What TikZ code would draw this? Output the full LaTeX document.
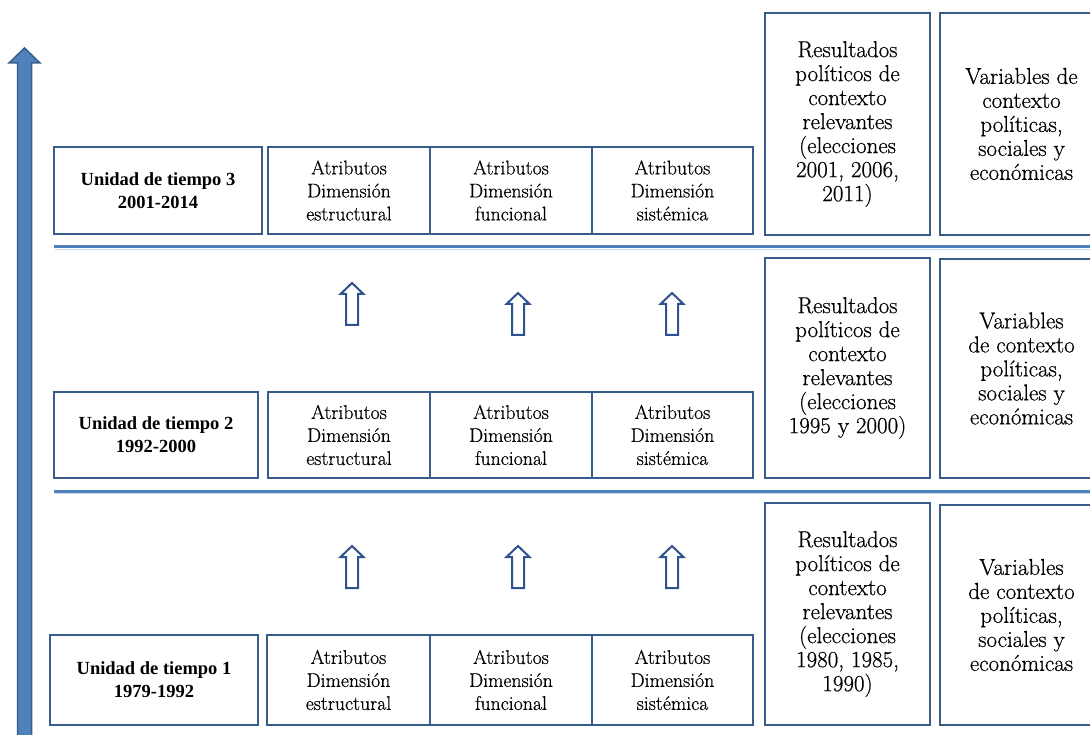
\documentclass[tikz,border=0pt]{standalone}
\usepackage{fontspec}
\usetikzlibrary{calc}
\setmainfont{Latin Modern Roman}[FakeBold=0.6]
\newfontfamily\unitfont{Liberation Serif}
\definecolor{boxblue}{HTML}{385D8A}
\definecolor{lineblue}{HTML}{4F81BD}
\definecolor{shadeblue}{HTML}{C9D8EC}
\definecolor{arrowblue}{HTML}{2F528F}
\tikzset{
  box/.style={draw=boxblue, line width=2.8pt, fill=white, inner sep=0pt, outer sep=0pt,
              align=center, anchor=north west},
  attr/.style={box, font=\fontsize{19.8}{23}\selectfont},
  unit/.style={box, font=\unitfont\bfseries\fontsize{18.5}{23}\selectfont},
  ctx/.style={box, font=\fontsize{23}{24}\selectfont},
  sepline/.style={draw=lineblue, line width=3pt},
  sepshade/.style={draw=shadeblue, line width=1pt},
  hollowarrow/.style={draw=arrowblue, line width=2pt, fill=white, line join=miter},
  uparr/.pic={\path[hollowarrow] (-6,11) -- (-11.5,11) -- (0,0) -- (11.5,11) -- (6,11)
               -- (6,42) -- (-6,42) -- cycle;}
}
\begin{document}
\begin{tikzpicture}[x=1pt, y=-1pt]
\useasboundingbox (0,0) rectangle (1090,735);
\clip (0,0) rectangle (1090,735);

% time axis
\path[fill=lineblue, draw=boxblue, line width=1.5pt, line join=miter]
  (17.5,745) -- (17.5,63) -- (9,63) -- (24.5,48) -- (40,63) -- (31.5,63) -- (31.5,745) -- cycle;

% separators between time units
\coordinate (s2a) at (54,247);   \coordinate (s2b) at (1095,247);
\coordinate (s1a) at (54,491);   \coordinate (s1b) at (1095,491);
\draw[sepshade] ($(s2a)+(1,2.3)$) -- ($(s2b)+(0,2.3)$);
\draw[sepshade] ($(s1a)+(1,2.3)$) -- ($(s1b)+(0,2.3)$);
\draw[sepline] (s2a) -- (s2b);
\draw[sepline] (s1a) -- (s1b);

% time unit 3
\node[unit, minimum width=208, minimum height=87] (u3) at (54,147) {Unidad de tiempo 3\\2001-2014};
\node[attr, minimum width=162, minimum height=87] (e3) at (268,147) {Atributos\\Dimensión\\estructural};
\node[attr, minimum width=162, minimum height=87] (f3) at (430,147) {Atributos\\Dimensión\\funcional};
\node[attr, minimum width=161, minimum height=87] (s3) at (592,147) {Atributos\\Dimensión\\sistémica};
\node[ctx, minimum width=165, minimum height=222] (r3) at (765,13)
  {Resultados\\políticos de\\contexto\\relevantes\\(elecciones\\2001, 2006,\\2011)};
\node[ctx, minimum width=163, minimum height=222] (v3) at (940,13)
  {Variables de\\contexto\\políticas,\\sociales y\\económicas};

% time unit 2
\node[unit, minimum width=204, minimum height=86] (u2) at (54,392) {Unidad de tiempo 2\\1992-2000};
\node[attr, minimum width=162, minimum height=86] (e2) at (268,392) {Atributos\\Dimensión\\estructural};
\node[attr, minimum width=162, minimum height=86] (f2) at (430,392) {Atributos\\Dimensión\\funcional};
\node[attr, minimum width=161, minimum height=86] (s2) at (592,392) {Atributos\\Dimensión\\sistémica};
\node[ctx, minimum width=165, minimum height=220] (r2) at (765,258)
  {Resultados\\políticos de\\contexto\\relevantes\\(elecciones\\1995 y 2000)};
\node[ctx, minimum width=163, minimum height=219] (v2) at (940,259)
  {Variables\\de contexto\\políticas,\\sociales y\\económicas};
\pic at (352,283) {uparr};
\pic at (518,293) {uparr};
\pic at (672,293) {uparr};

% time unit 1
\node[unit, minimum width=208, minimum height=90] (u1) at (50,635) {Unidad de tiempo 1\\1979-1992};
\node[attr, minimum width=163, minimum height=90] (e1) at (267,635) {Atributos\\Dimensión\\estructural};
\node[attr, minimum width=162, minimum height=90] (f1) at (430,635) {Atributos\\Dimensión\\funcional};
\node[attr, minimum width=161, minimum height=90] (s1) at (592,635) {Atributos\\Dimensión\\sistémica};
\node[ctx, minimum width=165, minimum height=222] (r1) at (765,503)
  {Resultados\\políticos de\\contexto\\relevantes\\(elecciones\\1980, 1985,\\1990)};
\node[ctx, minimum width=163, minimum height=220] (v1) at (940,505)
  {Variables\\de contexto\\políticas,\\sociales y\\económicas};
\pic at (352,546) {uparr};
\pic at (518,546) {uparr};
\pic at (672,546) {uparr};
\end{tikzpicture}
\end{document}
